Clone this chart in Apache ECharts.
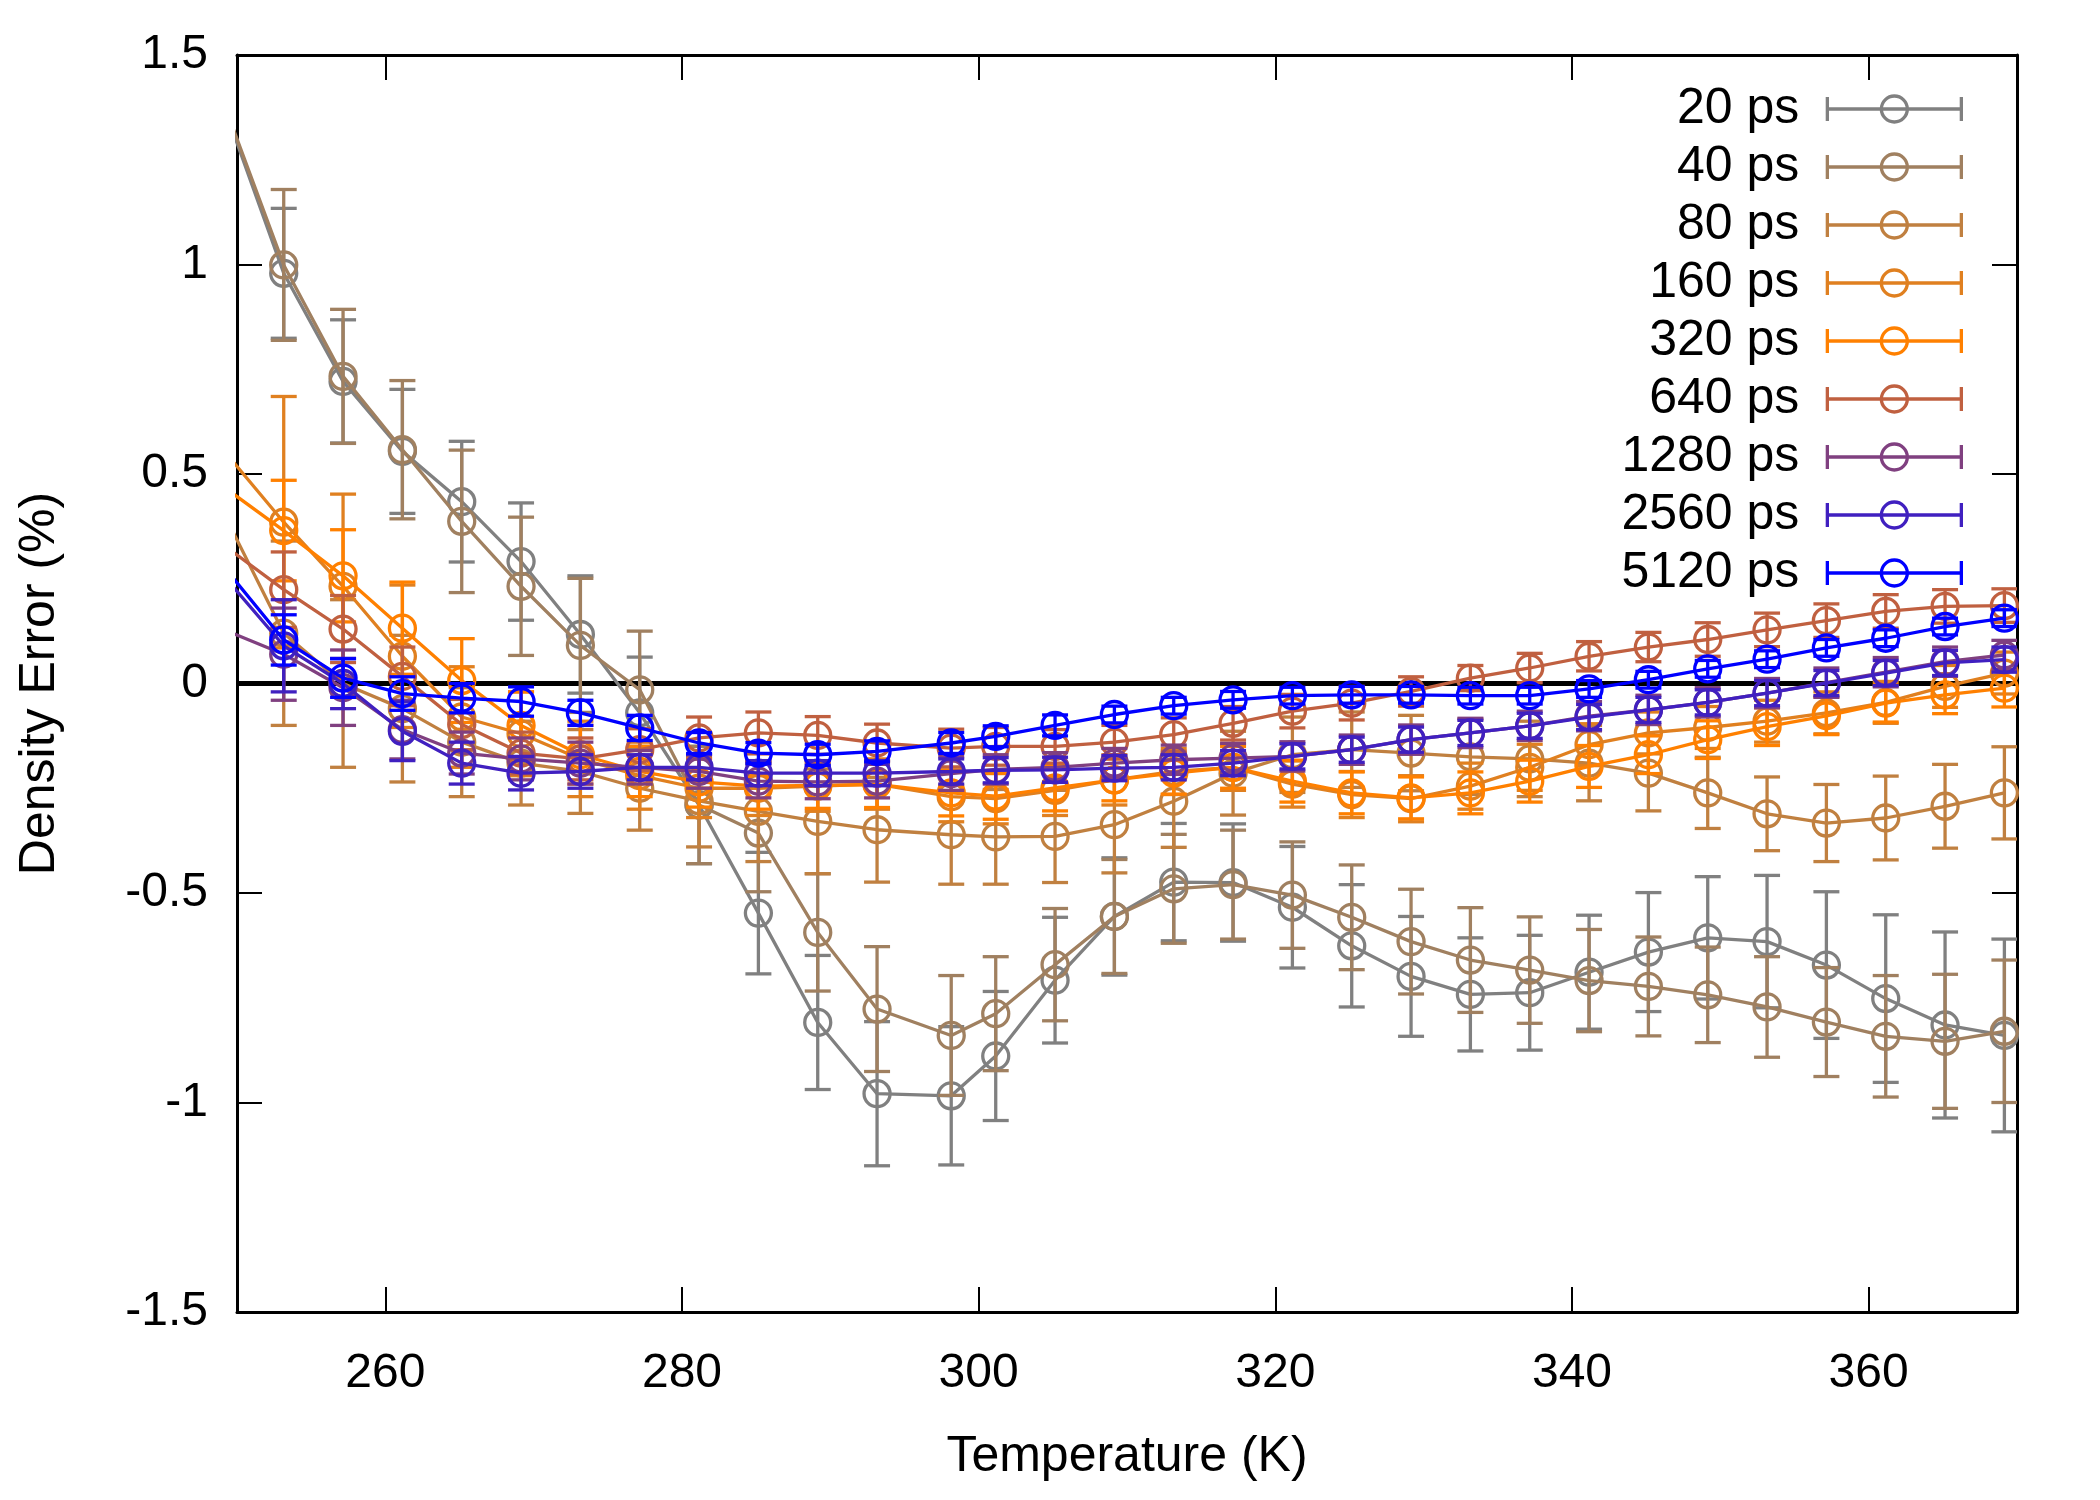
<!DOCTYPE html>
<html>
<head>
<meta charset="utf-8">
<script src="https://cdn.jsdelivr.net/npm/echarts@6/dist/echarts.min.js"></script>
<style>
  html, body { margin: 0; padding: 0; background: #fff; }
  #chart { width: 2100px; height: 1500px; }
</style>
</head>
<body>
<div id="chart"></div>
<script>
// Temperatures (K); the first point lies just left of the plotted range (line enters from the edge)
const temps = [249.15, 253.15, 257.15, 261.15, 265.15, 269.15, 273.15, 277.15, 281.15, 285.15,
  289.15, 293.15, 298.15, 301.15, 305.15, 309.15, 313.15, 317.15, 321.15, 325.15,
  329.15, 333.15, 337.15, 341.15, 345.15, 349.15, 353.15, 357.15, 361.15, 365.15, 369.15];

const seriesNames = ['20 ps', '40 ps', '80 ps', '160 ps', '320 ps', '640 ps', '1280 ps', '2560 ps', '5120 ps'];
const seriesColors = ['#808080', '#a08060', '#c08040', '#e08020', '#ff8000', '#c06040', '#804080', '#4020c0', '#0000ff'];

const ps20 = [1.374, 0.979, 0.721, 0.554, 0.434, 0.291, 0.117, -0.070, -0.290, -0.548,
  -0.809, -0.979, -0.984, -0.889, -0.708, -0.556, -0.474, -0.475, -0.534, -0.626,
  -0.699, -0.742, -0.738, -0.689, -0.641, -0.607, -0.616, -0.672, -0.752, -0.815, -0.840];
const err20 = [null, 0.155, 0.147, 0.148, 0.144, 0.14, 0.14, 0.133, 0.14, 0.145,
  0.16, 0.172, 0.165, 0.154, 0.15, 0.14, 0.14, 0.14, 0.145, 0.146,
  0.143, 0.135, 0.137, 0.136, 0.142, 0.146, 0.158, 0.175, 0.2, 0.222, 0.23];

const ps40 = [1.381, 0.999, 0.733, 0.558, 0.387, 0.232, 0.091, -0.015, -0.290, -0.357,
  -0.594, -0.777, -0.840, -0.788, -0.671, -0.556, -0.490, -0.480, -0.505, -0.558,
  -0.616, -0.660, -0.684, -0.709, -0.723, -0.743, -0.772, -0.808, -0.842, -0.854, -0.830];
const err40 = [null, 0.18, 0.16, 0.165, 0.17, 0.165, 0.16, 0.14, 0.14, 0.14,
  0.14, 0.149, 0.143, 0.136, 0.134, 0.136, 0.13, 0.13, 0.127, 0.125,
  0.125, 0.125, 0.127, 0.122, 0.118, 0.114, 0.12, 0.13, 0.145, 0.16, 0.17];

const ps80 = [0.403, 0.12, 0.0, -0.06, -0.14, -0.19, -0.21, -0.25, -0.28, -0.305,
  -0.329, -0.349, -0.361, -0.366, -0.365, -0.337, -0.281, -0.214, -0.17, -0.158,
  -0.166, -0.175, -0.18, -0.19, -0.214, -0.261, -0.311, -0.333, -0.321, -0.293, -0.261];
const err80 = [null, 0.22, 0.2, 0.175, 0.13, 0.1, 0.1, 0.1, 0.11, 0.12,
  0.125, 0.125, 0.118, 0.113, 0.11, 0.115, 0.11, 0.1, 0.09, 0.09,
  0.09, 0.09, 0.09, 0.09, 0.09, 0.085, 0.088, 0.092, 0.1, 0.1, 0.11];

const ps160 = [0.554, 0.385, 0.232, 0.065, -0.08, -0.12, -0.18, -0.22, -0.25, -0.25,
  -0.245, -0.24, -0.27, -0.275, -0.255, -0.23, -0.21, -0.2, -0.24, -0.265,
  -0.275, -0.245, -0.2, -0.146, -0.118, -0.105, -0.09, -0.07, -0.045, -0.007, 0.025];
const err160 = [null, 0.30, 0.22, 0.17, 0.12, 0.1, 0.09, 0.08, 0.07, 0.065,
  0.06, 0.06, 0.06, 0.06, 0.06, 0.06, 0.055, 0.055, 0.055, 0.055,
  0.055, 0.055, 0.055, 0.05, 0.05, 0.05, 0.05, 0.05, 0.05, 0.05, 0.05];

const ps320 = [0.468, 0.365, 0.257, 0.132, 0.007, -0.1, -0.17, -0.21, -0.235, -0.245,
  -0.243, -0.241, -0.261, -0.269, -0.249, -0.23, -0.214, -0.2, -0.233, -0.261,
  -0.273, -0.261, -0.233, -0.198, -0.17, -0.134, -0.103, -0.077, -0.047, -0.027, -0.011];
const err320 = [null, 0.12, 0.11, 0.11, 0.1, 0.08, 0.07, 0.06, 0.06, 0.055,
  0.055, 0.055, 0.055, 0.055, 0.055, 0.05, 0.05, 0.05, 0.05, 0.05,
  0.05, 0.05, 0.05, 0.05, 0.045, 0.045, 0.045, 0.045, 0.045, 0.045, 0.045];

const ps640 = [0.329, 0.224, 0.13, 0.017, -0.098, -0.166, -0.18, -0.158, -0.13, -0.118,
  -0.124, -0.142, -0.154, -0.15, -0.15, -0.14, -0.122, -0.095, -0.066, -0.047,
  -0.019, 0.013, 0.037, 0.065, 0.087, 0.105, 0.128, 0.15, 0.172, 0.184, 0.186];
const err640 = [null, 0.09, 0.08, 0.07, 0.06, 0.05, 0.05, 0.05, 0.05, 0.05,
  0.045, 0.045, 0.045, 0.045, 0.04, 0.04, 0.04, 0.04, 0.04, 0.04,
  0.035, 0.03, 0.035, 0.035, 0.035, 0.04, 0.04, 0.04, 0.04, 0.04, 0.04];

const ps1280 = [0.128, 0.07, -0.01, -0.11, -0.166, -0.18, -0.19, -0.2, -0.21, -0.233,
  -0.235, -0.233, -0.215, -0.205, -0.2, -0.19, -0.182, -0.178, -0.174, -0.158,
  -0.134, -0.118, -0.101, -0.078, -0.063, -0.045, -0.023, 0.002, 0.027, 0.052, 0.068];
const err1280 = [null, 0.11, 0.09, 0.07, 0.05, 0.05, 0.05, 0.04, 0.04, 0.04,
  0.04, 0.04, 0.04, 0.035, 0.035, 0.035, 0.035, 0.035, 0.035, 0.035,
  0.035, 0.035, 0.035, 0.035, 0.035, 0.035, 0.035, 0.035, 0.035, 0.035, 0.035];

const ps2560 = [0.255, 0.09, 0.0, -0.114, -0.19, -0.214, -0.21, -0.2, -0.2, -0.214,
  -0.214, -0.214, -0.21, -0.207, -0.206, -0.202, -0.2, -0.19, -0.174, -0.158,
  -0.134, -0.118, -0.101, -0.08, -0.063, -0.045, -0.023, 0.001, 0.025, 0.049, 0.057];
const err2560 = [null, 0.11, 0.06, 0.07, 0.05, 0.04, 0.04, 0.03, 0.03, 0.03,
  0.03, 0.03, 0.03, 0.03, 0.03, 0.03, 0.03, 0.03, 0.03, 0.03,
  0.03, 0.03, 0.03, 0.03, 0.03, 0.03, 0.03, 0.03, 0.03, 0.03, 0.03];

const ps5120 = [0.277, 0.104, 0.013, -0.024, -0.035, -0.043, -0.07, -0.106, -0.142, -0.166,
  -0.17, -0.162, -0.142, -0.126, -0.1, -0.074, -0.053, -0.039, -0.029, -0.027,
  -0.027, -0.029, -0.029, -0.013, 0.009, 0.035, 0.058, 0.085, 0.108, 0.136, 0.156];
const err5120 = [null, 0.06, 0.046, 0.04, 0.035, 0.035, 0.03, 0.03, 0.025, 0.025,
  0.025, 0.025, 0.025, 0.025, 0.025, 0.02, 0.02, 0.02, 0.02, 0.02,
  0.02, 0.02, 0.02, 0.02, 0.02, 0.02, 0.02, 0.02, 0.02, 0.02, 0.02];

const xTicks = [260, 280, 300, 320, 340, 360];
const yTicks = [-1.5, -1, -0.5, 0, 0.5, 1, 1.5];

const allValues = [ps20, ps40, ps80, ps160, ps320, ps640, ps1280, ps2560, ps5120];
const allErrors = [err20, err40, err80, err160, err320, err640, err1280, err2560, err5120];

const FONT = 'Liberation Sans, Arial, Helvetica, sans-serif';
const CAP = 13;
const LW = 3.3;

function errorSeries(idx) {
  const color = seriesColors[idx];
  const vals = allValues[idx], errs = allErrors[idx];
  const data = [];
  temps.forEach((t, i) => { if (errs[i] != null) data.push([t, vals[i], errs[i]]); });
  return {
    type: 'custom',
    name: seriesNames[idx] + ' error',
    data: data,
    encode: { x: 0, y: 1 },
    z: 2 + idx * 2,
    silent: true,
    clip: true,
    animation: false,
    renderItem: function (params, api) {
      const x = api.value(0), y = api.value(1), e = api.value(2);
      const p1 = api.coord([x, y + e]);
      const p2 = api.coord([x, y - e]);
      const mk = () => ({ stroke: color, lineWidth: LW });
      return {
        type: 'group',
        children: [
          { type: 'line', shape: { x1: p1[0], y1: p1[1], x2: p2[0], y2: p2[1] }, style: mk() },
          { type: 'line', shape: { x1: p1[0] - CAP, y1: p1[1], x2: p1[0] + CAP, y2: p1[1] }, style: mk() },
          { type: 'line', shape: { x1: p2[0] - CAP, y1: p2[1], x2: p2[0] + CAP, y2: p2[1] }, style: mk() }
        ]
      };
    }
  };
}

function lineSeries(idx) {
  const color = seriesColors[idx];
  const vals = allValues[idx];
  const s = {
    type: 'line',
    name: seriesNames[idx],
    data: temps.map((t, i) => [t, vals[i]]),
    z: 3 + idx * 2,
    symbol: 'circle',
    symbolSize: 26,
    showAllSymbol: true,
    clip: true,
    silent: true,
    animation: false,
    lineStyle: { color: color, width: LW },
    itemStyle: { color: 'rgba(0,0,0,0)', borderColor: color, borderWidth: LW },
    emphasis: { disabled: true }
  };
  if (idx === 0) {
    s.markLine = {
      silent: true,
      symbol: ['none', 'none'],
      label: { show: false },
      z: 1,
      lineStyle: { color: '#000', width: 5, type: 'solid' },
      emphasis: { disabled: true },
      animation: false,
      data: [{ yAxis: 0 }]
    };
  }
  return s;
}

const series = [];
for (let i = 0; i < seriesNames.length; i++) {
  series.push(errorSeries(i));
  series.push(lineSeries(i));
}

const axisLineStyle = { color: '#000', width: 3 };
const tickStyle = { color: '#000', width: 2 };

const option = {
  backgroundColor: '#fff',
  animation: false,
  textStyle: { fontFamily: FONT },
  grid: { left: 237, right: 83, top: 55, bottom: 188, containLabel: false, outerBoundsMode: 'none' },
  legend: {
    data: seriesNames,
    orient: 'vertical',
    align: 'right',
    right: 137,
    top: 84,
    padding: 0,
    itemGap: 8,
    itemWidth: 136,
    itemHeight: 26,
    selectedMode: false,
    icon: 'path://M1 1 L1 25 M1 13 L135 13 M135 1 L135 25 M81 13 A13 13 0 1 1 55 13 A13 13 0 1 1 81 13',
    itemStyle: { color: 'rgba(0,0,0,0)', borderColor: 'inherit', borderWidth: LW },
    textStyle: { fontSize: 50, color: '#000', fontFamily: FONT, padding: [0, 22, 0, 0] }
  },
  xAxis: [{
    type: 'value', min: 250, max: 370, position: 'bottom',
    name: 'Temperature (K)', nameLocation: 'middle', nameGap: 120,
    nameTextStyle: { fontSize: 50, color: '#000', fontFamily: FONT },
    axisLine: { show: true, onZero: false, lineStyle: axisLineStyle },
    axisTick: { show: true, inside: true, length: 25, lineStyle: tickStyle, customValues: xTicks },
    axisLabel: { show: true, fontSize: 48, color: '#000', margin: 38, fontFamily: FONT, customValues: xTicks },
    splitLine: { show: false }
  }, {
    type: 'value', min: 250, max: 370, position: 'top',
    axisLine: { show: true, onZero: false, lineStyle: axisLineStyle },
    axisTick: { show: true, inside: true, length: 25, lineStyle: tickStyle, customValues: xTicks },
    axisLabel: { show: false },
    splitLine: { show: false }
  }],
  yAxis: [{
    type: 'value', min: -1.5, max: 1.5, interval: 0.5, position: 'left',
    name: 'Density Error (%)', nameLocation: 'middle', nameGap: 172, nameRotate: 90,
    nameTextStyle: { fontSize: 50, color: '#000', fontFamily: FONT },
    axisLine: { show: true, onZero: false, lineStyle: axisLineStyle },
    axisTick: { show: true, inside: true, length: 25, lineStyle: tickStyle, customValues: yTicks },
    axisLabel: { show: true, fontSize: 48, color: '#000', margin: 29, fontFamily: FONT, customValues: yTicks },
    splitLine: { show: false }
  }, {
    type: 'value', min: -1.5, max: 1.5, interval: 0.5, position: 'right',
    axisLine: { show: true, onZero: false, lineStyle: axisLineStyle },
    axisTick: { show: true, inside: true, length: 25, lineStyle: tickStyle, customValues: yTicks },
    axisLabel: { show: false },
    splitLine: { show: false }
  }],
  series: series
};

const chart = echarts.init(document.getElementById('chart'), null, { renderer: 'canvas' });
chart.setOption(option);
</script>
</body>
</html>
